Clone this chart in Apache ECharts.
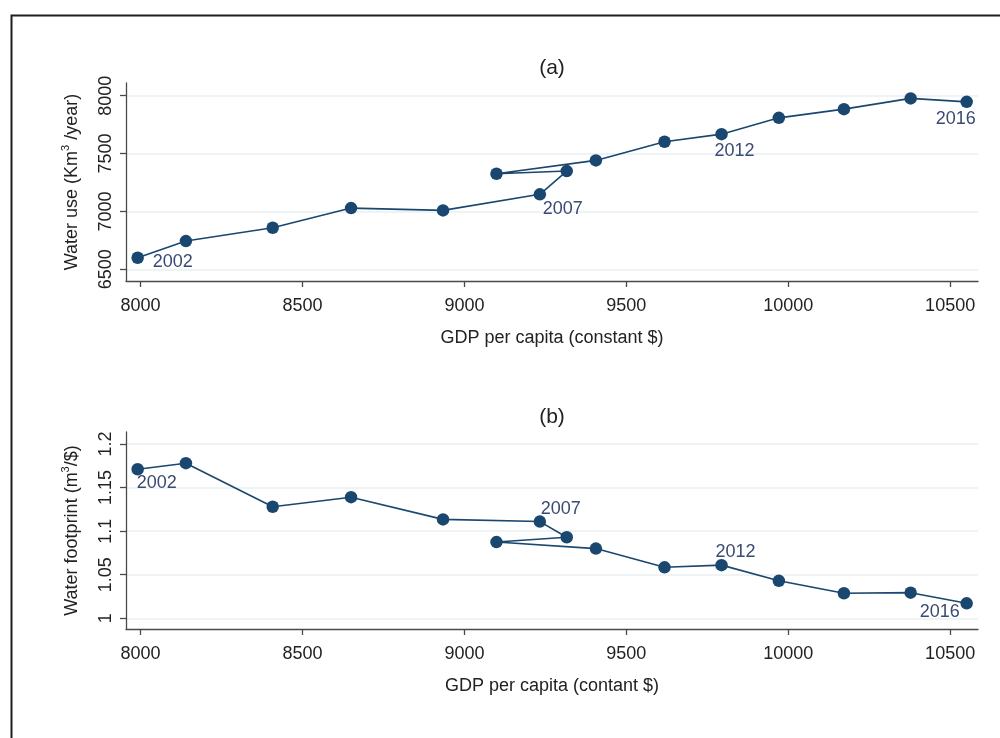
<!DOCTYPE html>
<html>
<head>
<meta charset="utf-8">
<script src="https://cdn.jsdelivr.net/npm/echarts@6/dist/echarts.min.js"></script>
<style>
html,body{margin:0;padding:0;background:#fff;}
#chart{width:1000px;height:738px;}
</style>
</head>
<body>
<div id="chart"></div>
<script>
// ---- data ----
const years = [2002,2003,2004,2005,2006,2007,2008,2009,2010,2011,2012,2013,2014,2015,2016];
const gdpPerCapita = [7991,8140,8408,8650,8934,9233,9316,9099,9406,9618,9794,9971,10172,10378,10551];
const waterUse = [6600,6744,6859,7029,7009,7148,7349,7326,7441,7602,7668,7809,7884,7977,7947];
const waterFootprint = [1.171,1.178,1.128,1.139,1.1135,1.111,1.093,1.0875,1.080,1.0585,1.061,1.043,1.0287,1.0294,1.0172];
const labeledYears = [2002,2007,2012,2016];
const xTicks = [8000,8500,9000,9500,10000,10500];
const yTicksA = [6500,7000,7500,8000];
const yTicksB = [1,1.05,1.1,1.15,1.2];

// ---- styling / placement (not data) ----
const FONT = '"Liberation Sans", Arial, sans-serif';
const NAVY = '#1a476f';
const LABEL_COLOR = '#3b4a72';
const offsetsA = {2002:[35,4],2007:[23,15],2012:[13,16.5],2016:[-11,17]};
const offsetsB = {2002:[19,14],2007:[21,-13],2012:[14,-13],2016:[-27,9]};

function buildSeriesData(yvals, offsets){
  return years.map((yr,i)=>{
    const item = {value:[gdpPerCapita[i], yvals[i]]};
    if (labeledYears.indexOf(yr) >= 0) {
      item.label = {show:true, formatter:String(yr), position:'inside', offset:offsets[yr],
        color:LABEL_COLOR, fontSize:18, fontFamily:FONT};
    }
    return item;
  });
}

const axisLineStyle = {color:'#4a4a4a', width:1.3};
function xAxisFor(gridIndex, name){
  return {
    type:'value', gridIndex, min:7955, max:10586,
    name, nameLocation:'middle', nameGap:48,
    nameTextStyle:{fontSize:18, color:'#222', fontFamily:FONT},
    axisLine:{show:true, onZero:false, lineStyle:axisLineStyle},
    axisTick:{show:true, length:6, lineStyle:axisLineStyle, customValues:xTicks},
    axisLabel:{fontSize:18, color:'#222', fontFamily:FONT, margin:16, customValues:xTicks,
      formatter:v=>String(v)},
    splitLine:{show:false}
  };
}
function yAxisFor(gridIndex, min, max, ticks, name){
  return {
    type:'value', gridIndex, min, max,
    name, nameLocation:'middle', nameGap:41,
    nameTextStyle:{fontSize:18, color:'#222', fontFamily:FONT,
      rich:{sup:{fontSize:11, verticalAlign:'top', color:'#222', fontFamily:FONT, padding:[0,0,14,0]}}},
    axisLine:{show:true, onZero:false, lineStyle:axisLineStyle},
    axisTick:{show:true, length:6, lineStyle:axisLineStyle, customValues:ticks},
    axisLabel:{fontSize:18, color:'#222', fontFamily:FONT, margin:11, rotate:90, customValues:ticks,
      formatter:v=>String(v)},
    splitLine:{show:true, lineStyle:{color:'#e8eff2', width:1.5}}
  };
}

const chart = echarts.init(document.getElementById('chart'), null, {renderer:'canvas'});
chart.setOption({
  animation:false,
  backgroundColor:'#fff',
  title:[
    {text:'(a)', left:552, top:58, textAlign:'center', padding:0,
     textStyle:{fontSize:21, fontWeight:'normal', color:'#222', fontFamily:FONT}},
    {text:'(b)', left:552, top:407, textAlign:'center', padding:0,
     textStyle:{fontSize:21, fontWeight:'normal', color:'#222', fontFamily:FONT}}
  ],
  grid:[
    {left:126, right:22, top:83, height:198},
    {left:126, right:22, top:432, height:197}
  ],
  xAxis:[
    xAxisFor(0,'GDP per capita (constant $)'),
    xAxisFor(1,'GDP per capita (contant $)')
  ],
  yAxis:[
    yAxisFor(0, 6399, 8110, yTicksA, 'Water use (Km{sup|3} /year)'),
    yAxisFor(1, 0.9877, 1.2138, yTicksB, 'Water footprint (m{sup|3}/$)')
  ],
  series:[
    {type:'line', xAxisIndex:0, yAxisIndex:0, data:buildSeriesData(waterUse, offsetsA),
     symbol:'circle', symbolSize:12.5, itemStyle:{color:NAVY}, lineStyle:{color:NAVY, width:1.6}},
    {type:'line', xAxisIndex:1, yAxisIndex:1, data:buildSeriesData(waterFootprint, offsetsB),
     symbol:'circle', symbolSize:12.5, itemStyle:{color:NAVY}, lineStyle:{color:NAVY, width:1.6}}
  ],
  graphic:[
    {type:'rect', left:9, top:13, shape:{x:0,y:0,width:1100,height:800},
     style:{fill:'none', stroke:'#1e1e1e', lineWidth:2}, silent:true}
  ]
});
</script>
</body>
</html>
